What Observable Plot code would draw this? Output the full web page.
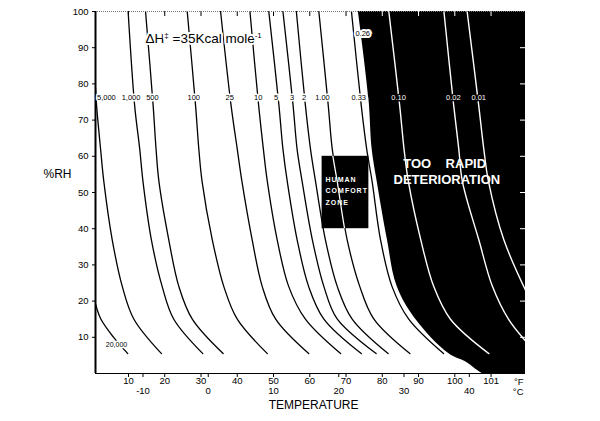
<!DOCTYPE html>
<html><head><meta charset="utf-8">
<script src="https://cdn.jsdelivr.net/npm/d3@7"></script>
<script src="https://cdn.jsdelivr.net/npm/@observablehq/plot@0.6"></script>
<style>body{margin:0;background:#fff}</style>
</head><body><div id="chart"></div>
<script>
// Isoperm curves: temperature (°F) read at relative humidity levels (%RH)
const rhStd = [100, 74, 62, 53, 37, 24, 15, 5.5];
const t1000 = [9.9, 11.7, 13.1, 14.0, 16.3, 19.3, 22.5, 30.5];
const t500  = [14.7, 16.8, 17.6, 18.4, 21.1, 23.9, 27.6, 36.1];
const t100  = [26.2, 28.5, 29.4, 30.3, 33.1, 36.3, 40.0, 48.3];
const t25   = [35.4, 38.3, 40.0, 41.3, 44.1, 46.9, 50.6, 59.7];
const t10   = [43.5, 45.9, 47.2, 48.3, 51.0, 54.2, 58.8, 68.5];
const t5    = [48.7, 51.5, 52.6, 53.8, 56.5, 59.7, 63.9, 74.2];
const t3    = [52.6, 55.4, 56.5, 57.9, 60.7, 63.9, 67.6, 78.3];
const t2    = [56.3, 58.8, 60.2, 61.6, 64.3, 67.6, 71.7, 81.6];
const t1    = [62.5, 65.1, 66.2, 67.7, 70.3, 73.8, 77.7, 87.6];
const t033  = [71.5, 74.2, 75.7, 77.2, 79.5, 82.7, 87.3, 96.9];
const t010  = [81.8, 84.8, 86.0, 87.2, 90.6, 94.2, 98.8, 109.4];
const rh5000 = [79, 74, 62, 53, 37, 24, 15, 5.5];
const t5000  = [0.9, 1.2, 2.3, 3.2, 5.5, 8.3, 11.5, 19.1];
const rh20000 = [19.3, 15.2, 10.1, 5.5];
const t20000  = [0.9, 2.3, 5.8, 9.8];
const rh002 = [100, 74, 62, 53, 37, 24, 15, 9];
const t002  = [97.0, 99.7, 101.1, 102.1, 106.6, 110.4, 114.8, 119.5];
const rh001 = [100, 74, 62, 53, 37, 23];
const t001  = [103.4, 106.6, 108.0, 109.3, 113.5, 119.5];

// edge of the "too rapid deterioration" region (0.26 isoperm)
const rhEdge = [100, 76, 62, 53, 37, 24, 15, 5.5, 3, 0.8, 0];
const tEdge  = [73.4, 76.3, 77.2, 78.6, 81.4, 84.1, 89.2, 98.3, 103.4, 106.3, 107.5];

// human comfort zone
const comfortT = [63.4, 76.3];
const comfortRH = [40, 60];

// curve labels
const isoLabels = ["5,000","1,000","500","100","25","10","5","3","2","1.00","0.33","0.10","0.02","0.01"];
const isoLabelT = [3.9, 10.7, 16.6, 28.0, 37.9, 45.8, 50.7, 55.1, 58.4, 63.5, 73.5, 84.5, 99.6, 106.6];
const isoLabelRH = 76.1;

// axes
const xMin = 0.9, xMax = 119.5;
const yTicks = [10, 20, 30, 40, 50, 60, 70, 80, 90, 100];
const rightTicks = [10, 20, 30, 40, 50, 60, 70, 80, 90];
const fTicks = [10, 20, 30, 40, 50, 60, 70, 80, 90, 100, 110];
const fLabels = ["10","20","30","40","50","60","70","80","90","100","101"];
const cTicks = [-10, 0, 10, 20, 30, 40];
const cLabels = ["-10","0","10","20","30","40"];

const dhText = "ΔH‡ =35Kcal mole-1";

// curves drawn black on white, and those lying in the black region drawn white
const blackCurves = [
  ["5,000", rh5000, t5000], ["1,000", rhStd, t1000], ["500", rhStd, t500],
  ["100", rhStd, t100], ["25", rhStd, t25], ["10", rhStd, t10], ["5", rhStd, t5],
  ["3", rhStd, t3], ["2", rhStd, t2], ["1.00", rhStd, t1], ["0.33", rhStd, t033],
  ["20,000", rh20000, t20000]
];
const whiteCurves = [["0.10", rhStd, t010], ["0.02", rh002, t002], ["0.01", rh001, t001]];
const toRows = list => list.flatMap(([id, rh, t]) => rh.map((r, i) => ({id, rh: r, t: t[i]})));
const blackLines = toRows(blackCurves);
const whiteLines = toRows(whiteCurves);
const comfortLine = toRows([["1.00", rhStd, t1]]);
const edgeData = rhEdge.map((r, i) => ({rh: r, t: tEdge[i]}));
const labelData = isoLabels.map((l, i) => ({label: l, t: isoLabelT[i], rh: isoLabelRH, white: isoLabelT[i] > tEdge[1]}));

const font = "'Liberation Sans', Arial, Helvetica, sans-serif";
const MARK_WHITE = "#fffffe";   // near-white used to find the comfort-zone marks after rendering

const svg = Plot.plot({
  width: 600, height: 421,
  marginLeft: 95, marginRight: 75, marginTop: 11, marginBottom: 48,
  x: {domain: [xMin, xMax]},
  y: {domain: [0, 100]},
  style: {fontFamily: font, background: "white", color: "black"},
  marks: [
    Plot.areaX(edgeData, {y: "rh", x1: "t", x2: xMax, fill: "black", curve: "catmull-rom"}),
    Plot.line(blackLines, {x: "t", y: "rh", z: "id", stroke: "black", strokeWidth: 1.3, curve: "catmull-rom", clip: true}),
    Plot.rect([0], {x1: comfortT[0], x2: comfortT[1], y1: comfortRH[0], y2: comfortRH[1], fill: "black"}),
    Plot.line(comfortLine, {x: "t", y: "rh", z: "id", stroke: MARK_WHITE, strokeWidth: 1.3, curve: "catmull-rom"}),
    Plot.line(whiteLines, {x: "t", y: "rh", z: "id", stroke: "white", strokeWidth: 1.4, curve: "catmull-rom", clip: true}),
    Plot.ruleX(fTicks.filter(d => d < tEdge[0]), {stroke: "black", insetBottom: 357}),
    Plot.ruleX(fTicks.filter(d => d > tEdge[0]), {stroke: "white", insetBottom: 357}),
    Plot.ruleY(rightTicks, {stroke: "white", insetLeft: 425}),
    Plot.ruleY([100], {stroke: "#777", strokeDasharray: "1,1"}),
    Plot.ruleY([0], {stroke: "black", strokeWidth: 1.2}),
    Plot.ruleX([xMin], {stroke: "black", strokeWidth: 2}),
    Plot.axisY(yTicks, {anchor: "left", tickSize: 3, tickPadding: 4, fontSize: 9.5, label: null}),
    Plot.axisX(fTicks, {anchor: "bottom", tickSize: 4, tickPadding: 0, fontSize: 9.5, label: null,
      tickFormat: d => fLabels[fTicks.indexOf(d)]}),
    Plot.axisX(cTicks.map(c => c * 9 / 5 + 32), {anchor: "bottom", tickSize: 4, tickPadding: 9.5, fontSize: 9.5, label: null,
      tickFormat: d => cLabels[cTicks.indexOf(Math.round((d - 32) * 5 / 9))]}),
    Plot.text(labelData.filter(d => !d.white), {x: "t", y: "rh", text: "label", fontSize: 7.5, fill: "black",
      stroke: "white", strokeWidth: 3, paintOrder: "stroke"}),
    Plot.text(labelData.filter(d => d.white), {x: "t", y: "rh", text: "label", fontSize: 7.5, fill: "white",
      stroke: "black", strokeWidth: 3, paintOrder: "stroke"}),
    Plot.text(["0.26"], {x: 74.6, y: 93.9, text: d => d, fontSize: 7.5, fill: "black", stroke: "white", strokeWidth: 4, strokeLinejoin: "miter", paintOrder: "stroke"}),
    Plot.text(["20,000"], {x: 6.7, y: 8.0, text: d => d, fontSize: 7, fill: "black", stroke: "white", strokeWidth: 3, paintOrder: "stroke"}),
    Plot.text([dhText], {x: 14.7, y: 92.5, text: d => d, textAnchor: "start", fontSize: 13.5,
      fill: "black", stroke: "white", strokeWidth: 4, paintOrder: "stroke"}),
    Plot.text(["TOO\u00A0\u00A0\u00A0\u00A0RAPID"], {x: 97.2, y: 57.9, text: d => d, fontSize: 13, fontWeight: "bold", fill: "white"}),
    Plot.text(["DETERIORATION"], {x: 97.8, y: 53.5, text: d => d, fontSize: 13, fontWeight: "bold", fill: "white"}),
    Plot.text(["HUMAN\nCOMFORT\nZONE"], {x: 64.35, y: 50.8, text: d => d, textAnchor: "start", fontSize: 7,
      fontWeight: "bold", lineHeight: 1.64, fill: MARK_WHITE}),
    Plot.text(["%RH"], {x: xMin, y: 55, dx: -38, text: d => d, fontSize: 12}),
    Plot.text(["TEMPERATURE"], {x: 61.05, y: 0, dy: 32, text: d => d, fontSize: 12}),
    Plot.text(["°F"], {x: xMax, y: 0, dx: -2, dy: 8.5, text: d => d, textAnchor: "end", fontSize: 9.5}),
    Plot.text(["°C"], {x: xMax, y: 0, dx: -2, dy: 18.5, text: d => d, textAnchor: "end", fontSize: 9.5})
  ]
});

const s = d3.select(svg);
// clip the white copy of the 1.00 isoperm to the comfort-zone rectangle, using the plot's own scales
const sx = svg.scale("x"), sy = svg.scale("y");
const X1 = sx.apply(comfortT[0]), X2 = sx.apply(comfortT[1]);
const Y1 = sy.apply(comfortRH[1]), Y2 = sy.apply(comfortRH[0]);
const clipId = "comfort-clip";
s.insert("defs", ":first-child").append("clipPath").attr("id", clipId)
  .attr("clipPathUnits", "userSpaceOnUse")
  .append("rect").attr("x", X1).attr("y", Y1).attr("width", X2 - X1).attr("height", Y2 - Y1);
s.selectAll("g").filter(function () { return this.getAttribute("stroke") === MARK_WHITE; })
  .attr("clip-path", `url(#${clipId})`).attr("transform", null);
s.selectAll("g").filter(function () { return this.getAttribute("fill") === MARK_WHITE; })
  .attr("letter-spacing", "1px");
s.selectAll("text").filter(function () { return this.textContent === dhText; }).each(function () {
  const t = d3.select(this);
  t.text(null);
  t.append("tspan").text("ΔH");
  t.append("tspan").attr("font-size", 8).attr("dy", -5).text("‡");
  t.append("tspan").attr("dy", 5).text(" =35Kcal mole");
  t.append("tspan").attr("font-size", 8).attr("dy", -5).text("-1");
});
document.getElementById("chart").appendChild(svg);
</script>
</body></html>
